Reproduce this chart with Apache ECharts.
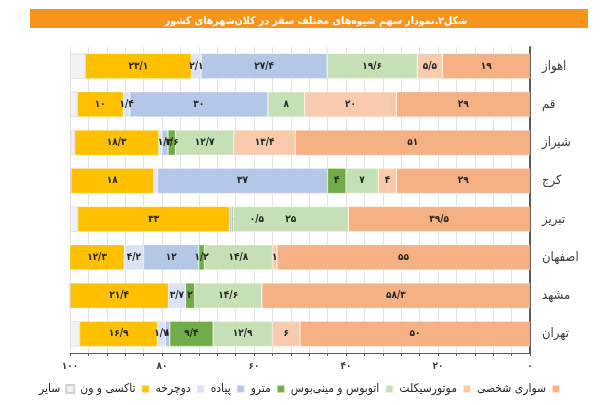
<!DOCTYPE html>
<html>
<head>
<meta charset="utf-8">
<script src="https://cdn.jsdelivr.net/npm/echarts@6/dist/echarts.min.js"></script>
<style>
	html, body { margin: 0; padding: 0; background: #fff; }
	#chart { width: 600px; height: 405px; }
</style>
</head>
<body>
<div id="chart"></div>
<script>
// شهرها از بالا به پایین
var cities = ['اهواز', 'قم', 'شیراز', 'کرج', 'تبریز', 'اصفهان', 'مشهد', 'تهران'];

// سهم هر شیوه (درصد)
var car = [19, 29, 51, 29, 39.5, 55, 58.3, 50];
var moto = [5.5, 20, 13.4, 4, 0, 1, 0, 6];
var bus = [19.6, 8, 12.7, 7, 25, 14.8, 14.6, 12.9];
var metro = [0, 0, 1.6, 4, 0.3, 1.2, 2, 9.4];
var walk = [27.4, 30, 1.3, 37, 0.5, 12, 0, 1];
var bike = [2.1, 1.4, 0.7, 0.8, 0, 4.2, 3.7, 1.7];
var taxi = [23.1, 10, 18.3, 18, 33, 12.3, 21.4, 16.9];
var other = [3.3, 1.6, 0.7, 0.2, 1.7, 0, 0, 2.1];

// برچسب‌هایی که در نمودار اصلی نیامده‌اند
var hiddenLabels = [['دوچرخه', 'شیراز'], ['دوچرخه', 'کرج'], ['مترو', 'تبریز']];

var FONT = 'DejaVu Sans Condensed, DejaVu Sans';

var faDigits = ['۰', '۱', '۲', '۳', '۴', '۵', '۶', '۷', '۸', '۹'];
function toFa(v) {
	return String(v).replace('.', '/').replace(/[0-9]/g, function (d) { return faDigits[+d]; });
}

var seriesDefs = [
	{ name: 'سواری شخصی', data: car, color: '#f4b183' },
	{ name: 'موتورسیکلت', data: moto, color: '#f8cbad' },
	{ name: 'اتوبوس و مینی‌بوس', data: bus, color: '#c5e0b4' },
	{ name: 'مترو', data: metro, color: '#70ad47' },
	{ name: 'پیاده', data: walk, color: '#b4c7e7' },
	{ name: 'دوچرخه', data: bike, color: '#dae3f3' },
	{ name: 'تاکسی و ون', data: taxi, color: '#ffc000' },
	{ name: 'سایر', data: other, color: '#f2f2f2', noLabel: true }
];

function isHidden(sName, city) {
	for (var i = 0; i < hiddenLabels.length; i++) {
		if (hiddenLabels[i][0] == sName && hiddenLabels[i][1] == city) return true;
	}
	return false;
}

var series = seriesDefs.map(function (s) {
	return {
		name: s.name,
		type: 'bar',
		stack: 'all',
		barWidth: '66%',
		xAxisIndex: 0,
		data: s.data,
		itemStyle: {
			color: s.color,
			borderColor: s.noLabel ? '#d0d0d0' : 'rgba(255,255,255,0.6)',
			borderWidth: 0.5
		},
		label: {
			show: !s.noLabel,
			position: 'inside',
			color: '#262626',
			fontSize: 10,
			fontWeight: 'bold',
			fontFamily: FONT,
			formatter: function (p) {
				if (!p.value || isHidden(p.seriesName, p.name)) return '';
				return toFa(p.value);
			}
		},
		labelLine: {
			show: true,
			lineStyle: { color: '#7f7f7f', width: 0.8 }
		},
		emphasis: { disabled: true }
	};
});

var chart = echarts.init(document.getElementById('chart'));

chart.setOption({
	animation: false,
	textStyle: { fontFamily: FONT },
	title: {
		text: 'شکل۲.نمودار سهم شیوه‌های مختلف سفر در کلان‌شهرهای کشور',
		left: 311,
		textAlign: 'center',
		top: 11,
		textStyle: { color: '#fff', fontSize: 10.5, fontWeight: 'bold', fontFamily: FONT }
	},
	graphic: [{
		type: 'rect',
		z: -1,
		shape: { x: 30, y: 9, width: 558, height: 19 },
		style: { fill: '#f7941d' }
	}],
	legend: {
		top: 378,
		z: 1,
		left: 'center',
		align: 'right',
		itemWidth: 8,
		itemHeight: 8,
		itemGap: 5,
		icon: 'rect',
		textStyle: { color: '#262626', fontSize: 12, fontFamily: FONT, padding: [0, 1, 0, 0] },
		data: seriesDefs.map(function (s) { return s.name; }).reverse()
	},
	grid: { left: 70, right: 70, top: 47, bottom: 52, containLabel: false },
	xAxis: [{
		// خطوط شبکه، زیر میله‌ها
		type: 'value',
		inverse: true,
		position: 'bottom',
		min: 0,
		max: 100,
		interval: 20,
		axisLine: { show: false },
		axisTick: { show: false },
		axisLabel: { show: false },
		splitLine: { show: true, lineStyle: { color: '#e3e3e3', width: 1 } },
		minorTick: { show: false, splitNumber: 5 },
		minorSplitLine: { show: true, lineStyle: { color: '#e3e3e3', width: 1 } }
	}, {
		// خط محور، تیک‌ها و برچسب‌ها، روی همه
		type: 'value',
		inverse: true,
		position: 'bottom',
		offset: 0,
		z: 10,
		min: 0,
		max: 100,
		interval: 20,
		axisLine: { show: true, lineStyle: { color: '#595959', width: 1 } },
		axisTick: { show: true, length: 3, lineStyle: { color: '#595959' } },
		minorTick: { show: true, splitNumber: 5, length: 3, lineStyle: { color: '#595959' } },
		splitLine: { show: false },
		minorSplitLine: { show: false },
		axisLabel: {
			color: '#404040',
			fontSize: 10,
			fontWeight: 'bold',
			margin: 8,
			fontFamily: FONT,
			hideOverlap: false,
			formatter: function (v) { return toFa(Math.round(v)); }
		}
	}],
	yAxis: {
		type: 'category',
		inverse: true,
		position: 'right',
		data: cities,
		axisLine: { show: true, lineStyle: { color: '#595959', width: 2 } },
		axisTick: { show: false },
		axisLabel: { color: '#404040', fontSize: 13, margin: 12, fontFamily: FONT }
	},
	labelLayout: function (p) {
		if (p.seriesIndex == 4 && p.dataIndex == 4) {
			return { dx: 26 };
		}
	},
	series: series
});
</script>
</body>
</html>
